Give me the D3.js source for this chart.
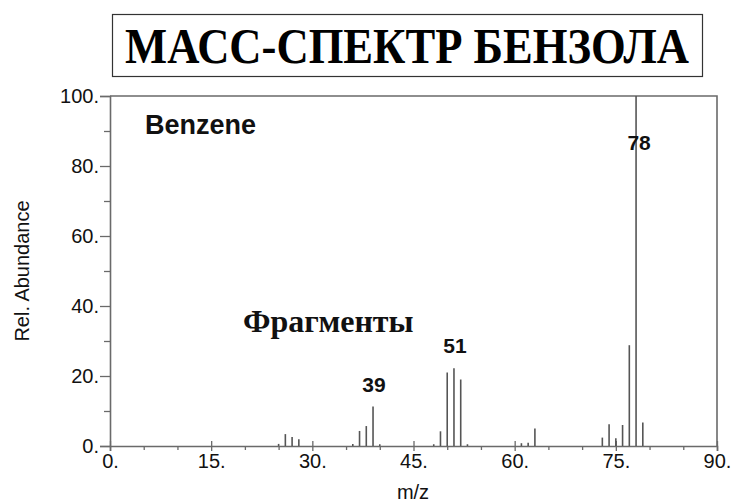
<!DOCTYPE html>
<html><head><meta charset="utf-8">
<script src="https://cdn.jsdelivr.net/npm/d3@7/dist/d3.min.js"></script>
<style>body{margin:0;background:#fff}svg{display:block}</style>
</head><body>
<svg id="c" width="731" height="504"></svg>
<script>
const title = "МАСС-СПЕКТР БЕНЗОЛА";
const compound = "Benzene";
const fragLabel = "Фрагменты";
const mz =        [25, 26, 27, 28, 36, 37, 38, 39, 40, 48, 49, 50, 51, 52, 53, 61, 62, 63, 73, 74, 75, 76, 77, 78, 79];
const abundance = [0.6,3.4,2.6,1.9,0.6,4.3,5.7,11.3,0.5,0.5,4.2,21,22.2,19,0.5,0.8,0.9,5,2.4,6.2,2.2,6,28.8,100,6.7];
const peakLabels = [39, 51, 78];
const xMajor = [0, 15, 30, 45, 60, 75, 90];
const xMinor = [5, 10, 20, 25, 35, 40, 50, 55, 65, 70, 80, 85];
const yMajor = [0, 20, 40, 60, 80, 100];
const yMinor = [10, 30, 50, 70, 90];

const svg = d3.select("#c");
const L = 110, R = 717, T = 96, B = 446;
const x = d3.scaleLinear().domain([0, 90]).range([L, R]);
const y = d3.scaleLinear().domain([0, 100]).range([B, T]);
const ax = "#6a6a6a";
const sans = "Liberation Sans, Arial, sans-serif";
const serif = "Liberation Serif, Times New Roman, serif";

// title box
svg.append("rect").attr("x", 112.5).attr("y", 14.5).attr("width", 590).attr("height", 62)
  .attr("fill", "none").attr("stroke", "#333").attr("stroke-width", 1.2);
const tg = svg.append("g").attr("transform", "translate(407,63)");
const tt = tg.append("text").attr("x", 0).attr("y", 0).attr("text-anchor", "middle")
  .attr("font-family", serif).attr("font-weight", "bold")
  .attr("font-size", 50).text(title);
const tw = tt.node().getComputedTextLength();
tt.attr("transform", `scale(${Math.min(1, 564 / tw)},1)`);

// frame
svg.append("path").attr("d", `M${L},${T}H${R}V${B}`).attr("fill", "none").attr("stroke", ax).attr("stroke-width", 1.6);

// y axis
const yAx = svg.append("g").attr("transform", `translate(${L},0)`)
  .call(d3.axisLeft(y).tickValues(yMajor).tickSize(10).tickFormat(d => d + "."));
yAx.select(".domain").attr("stroke", ax).attr("stroke-width", 1.6);
yAx.selectAll(".tick line").attr("stroke", ax).attr("stroke-width", 1.3);
yAx.selectAll(".tick text").attr("font-family", sans).attr("font-size", 20).attr("fill", "#111").attr("x", -11);
svg.append("g").attr("transform", `translate(${L},0)`)
  .call(d3.axisLeft(y).tickValues(yMinor).tickSize(6).tickFormat(""))
  .call(g => { g.select(".domain").remove(); g.selectAll(".tick line").attr("stroke", ax).attr("stroke-width", 1.3); });

// x axis
const xAx = svg.append("g").attr("transform", `translate(0,${B})`)
  .call(d3.axisBottom(x).tickValues(xMajor).tickSize(5).tickFormat(d => d + "."));
xAx.select(".domain").attr("stroke", ax).attr("stroke-width", 1.6);
xAx.selectAll(".tick line").attr("stroke", ax).attr("stroke-width", 1.3).attr("y1", -5);
xAx.selectAll(".tick text").attr("font-family", sans).attr("font-size", 20).attr("fill", "#111").attr("y", 8);
svg.append("g").attr("transform", `translate(0,${B})`)
  .call(d3.axisBottom(x).tickValues(xMinor).tickSize(4).tickFormat(""))
  .call(g => { g.select(".domain").remove(); g.selectAll(".tick line").attr("stroke", ax).attr("stroke-width", 1.3); });

// peaks
svg.append("g").selectAll("line").data(mz).join("line")
  .attr("x1", d => x(d)).attr("x2", d => x(d))
  .attr("y1", y(0)).attr("y2", (d, i) => y(abundance[i]))
  .attr("stroke", "#555").attr("stroke-width", 1.6);

// peak labels
svg.append("g").selectAll("text").data(peakLabels).join("text")
  .attr("x", d => x(d) + (d === 78 ? 3 : 1))
  .attr("y", d => d === 78 ? y(84.5) : y(abundance[mz.indexOf(d)]) - (d === 39 ? 14 : 15))
  .attr("text-anchor", "middle")
  .attr("font-family", sans).attr("font-weight", "bold").attr("font-size", 21)
  .attr("fill", "#111").text(d => d);

svg.append("text").attr("x", 145).attr("y", 134)
  .attr("font-family", sans).attr("font-weight", "bold").attr("font-size", 27)
  .attr("fill", "#111").text(compound);
svg.append("text").attr("x", 243).attr("y", 332)
  .attr("font-family", serif).attr("font-weight", "bold").attr("font-size", 32)
  .attr("fill", "#111").text(fragLabel);

// axis titles
svg.append("text").attr("transform", "translate(29,271) rotate(-90)").attr("text-anchor", "middle")
  .attr("font-family", sans).attr("font-size", 20).attr("fill", "#111").text("Rel. Abundance");
svg.append("text").attr("x", 413).attr("y", 499).attr("text-anchor", "middle")
  .attr("font-family", sans).attr("font-size", 20).attr("fill", "#111").text("m/z");
</script>
</body></html>
